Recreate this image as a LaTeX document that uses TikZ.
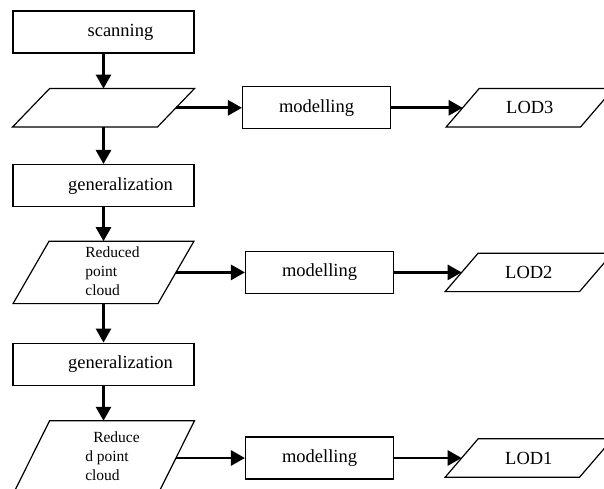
\documentclass[tikz,border=0pt]{standalone}
\usepackage{fontspec}
\setmainfont{Liberation Serif}
\usepackage{tikz}
\usetikzlibrary{arrows.meta, positioning}
\tikzset{
  border/.style={draw=black, line width=1.2pt, line join=miter},
  block/.style={rectangle, border, fill=white,
    minimum width=181pt, minimum height=42pt, inner sep=0pt,
    font=\fontsize{18.5}{22}\selectfont},
  shifted/.style={execute at begin node=\hspace*{34pt}},
  modblock/.style={block, minimum width=148pt},
  data/.style={rectangle, minimum width=144.5pt, inner sep=0pt,
    font=\fontsize{15.5}{19}\selectfont},
  lod/.style={rectangle, minimum width=134pt, minimum height=38pt, inner sep=0pt,
    font=\fontsize{18.5}{22}\selectfont},
  arrow/.style={-{Triangle[length=14pt, width=15pt]}, line width=2.7pt, color=black}
}
% slanted outline round a node: node name, half of the slant
\newcommand{\slantbox}[2]{%
  \draw[border] ([xshift=-#2]#1.south west) -- ([xshift=#2]#1.north west)
    -- ([xshift=#2]#1.north east) -- ([xshift=-#2]#1.south east) -- cycle;}
\begin{document}
\begin{tikzpicture}[x=1pt, y=-1pt]
  \useasboundingbox (0,0) rectangle (604,489);
  % left column
  \node[block, shifted] (scan) at (103.5,32) {scanning};
  \node[data, below=35pt of scan, minimum height=38pt] (cloud) {};
  \node[block, shifted, below=37pt of cloud] (gen1) {generalization};
  \node[data, below=34pt of gen1, minimum height=62pt] (rcloud)
    {\hspace*{18pt}\begin{tabular}{@{}l@{}}Reduced\\point\\cloud\end{tabular}};
  \node[block, shifted, below=39pt of rcloud] (gen2) {generalization};
  \node[data, below=35pt of gen2, minimum height=74pt] (rrcloud)
    {\hspace*{18pt}\begin{tabular}{@{}l@{}}\hspace*{8pt}Reduce\\d point\\cloud\end{tabular}};
  \slantbox{cloud}{18.5pt}
  \slantbox{rcloud}{18pt}
  \slantbox{rrcloud}{18.5pt}
  % modelling
  \node[modblock, right=66pt of cloud] (mod3) {modelling};
  \node[modblock, right=69pt of rcloud] (mod2) {modelling};
  \node[modblock, right=69pt of rrcloud] (mod1) {modelling};
  % levels of detail
  \node[lod, right=71.5pt of mod3] (lod3) {LOD3};
  \node[lod, right=67.5pt of mod2] (lod2) {LOD2};
  \node[lod, right=67.5pt of mod1] (lod1) {LOD1};
  \slantbox{lod3}{16.5pt}
  \slantbox{lod2}{16.5pt}
  \slantbox{lod1}{16.5pt}
  % connections
  \draw[arrow] (scan) -- (cloud);
  \draw[arrow] (cloud) -- (gen1);
  \draw[arrow] (gen1) -- (rcloud);
  \draw[arrow] (rcloud) -- (gen2);
  \draw[arrow] (gen2) -- (rrcloud);
  \draw[arrow] (cloud.east) -- (mod3.west);
  \draw[arrow] (rcloud.east) -- (mod2.west);
  \draw[arrow] (rrcloud.east) -- (mod1.west);
  \draw[arrow] (mod3.east) -- (lod3.west);
  \draw[arrow] (mod2.east) -- (lod2.west);
  \draw[arrow] (mod1.east) -- (lod1.west);
\end{tikzpicture}
\end{document}
